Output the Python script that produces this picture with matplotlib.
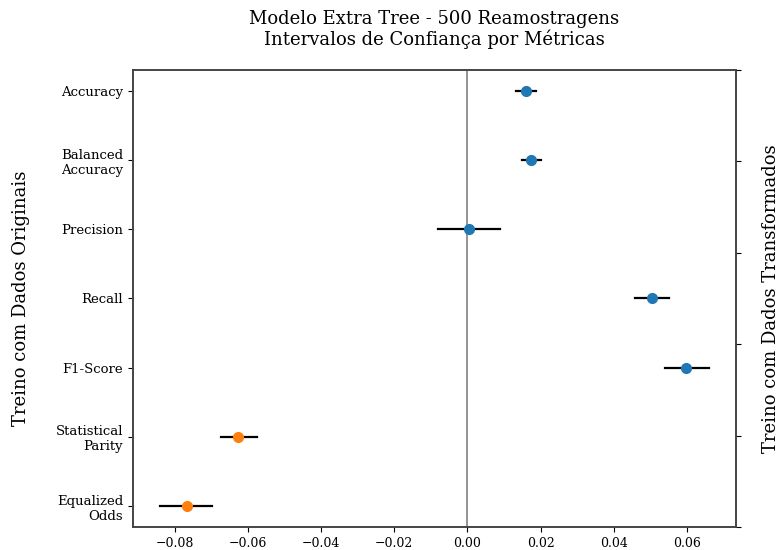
import matplotlib
matplotlib.use("Agg")
import matplotlib.pyplot as plt
import numpy as np

plt.rcParams['font.family'] = ['DejaVu Serif']

metrics = ["Accuracy", "Balanced\nAccuracy", "Precision", "Recall", "F1-Score",
           "Statistical\nParity", "Equalized\nOdds"]
centers = [0.0159, 0.0173, 0.0004, 0.0504, 0.0598, -0.0626, -0.0765]
lower = [0.0134, 0.0148, -0.0080, 0.0457, 0.0540, -0.0674, -0.0839]
upper = [0.0187, 0.0200, 0.0090, 0.0551, 0.0659, -0.0574, -0.0698]
point_colors = ["C0", "C0", "C0", "C0", "C0", "C1", "C1"]

fig = plt.figure(figsize=(7.81, 5.5), dpi=100)
ax = fig.add_axes([133 / 781, 23 / 550, 603 / 781, 457 / 550])

ypos = np.arange(len(metrics))
for y, c, lo, hi, col in zip(ypos, centers, lower, upper, point_colors):
    ax.plot([lo, hi], [y, y], color="black", lw=1.6, zorder=2)
    ax.plot([c], [y], "o", color=col, ms=7, zorder=3)

ax.axvline(0, color="gray", lw=1.2, zorder=1)
ax.set_yticks(ypos)
ax.set_yticklabels(metrics, fontsize=9.5)
ax.set_ylim(len(metrics) - 1 + 0.3, -0.3)
ax.tick_params(axis="x", labelsize=9)
ax.set_ylabel("Treino com Dados Originais", fontsize=13)
ax.yaxis.set_label_coords(-0.171, 0.5)
ax.set_title("Modelo Extra Tree - 500 Reamostragens\nIntervalos de Confiança por Métricas",
             fontsize=13, pad=18, linespacing=1.1)

ax2 = ax.twinx()
ax2.set_yticks(np.linspace(0, 1, 6))
ax2.set_yticklabels([])
ax2.set_ylabel("Treino com Dados Transformados", fontsize=13)
ax2.yaxis.set_label_coords(1.043, 0.5)

for a in (ax, ax2):
    for s in a.spines.values():
        s.set_color("#444444")
        s.set_linewidth(1.2)

fig.savefig("out.png", dpi=100)
